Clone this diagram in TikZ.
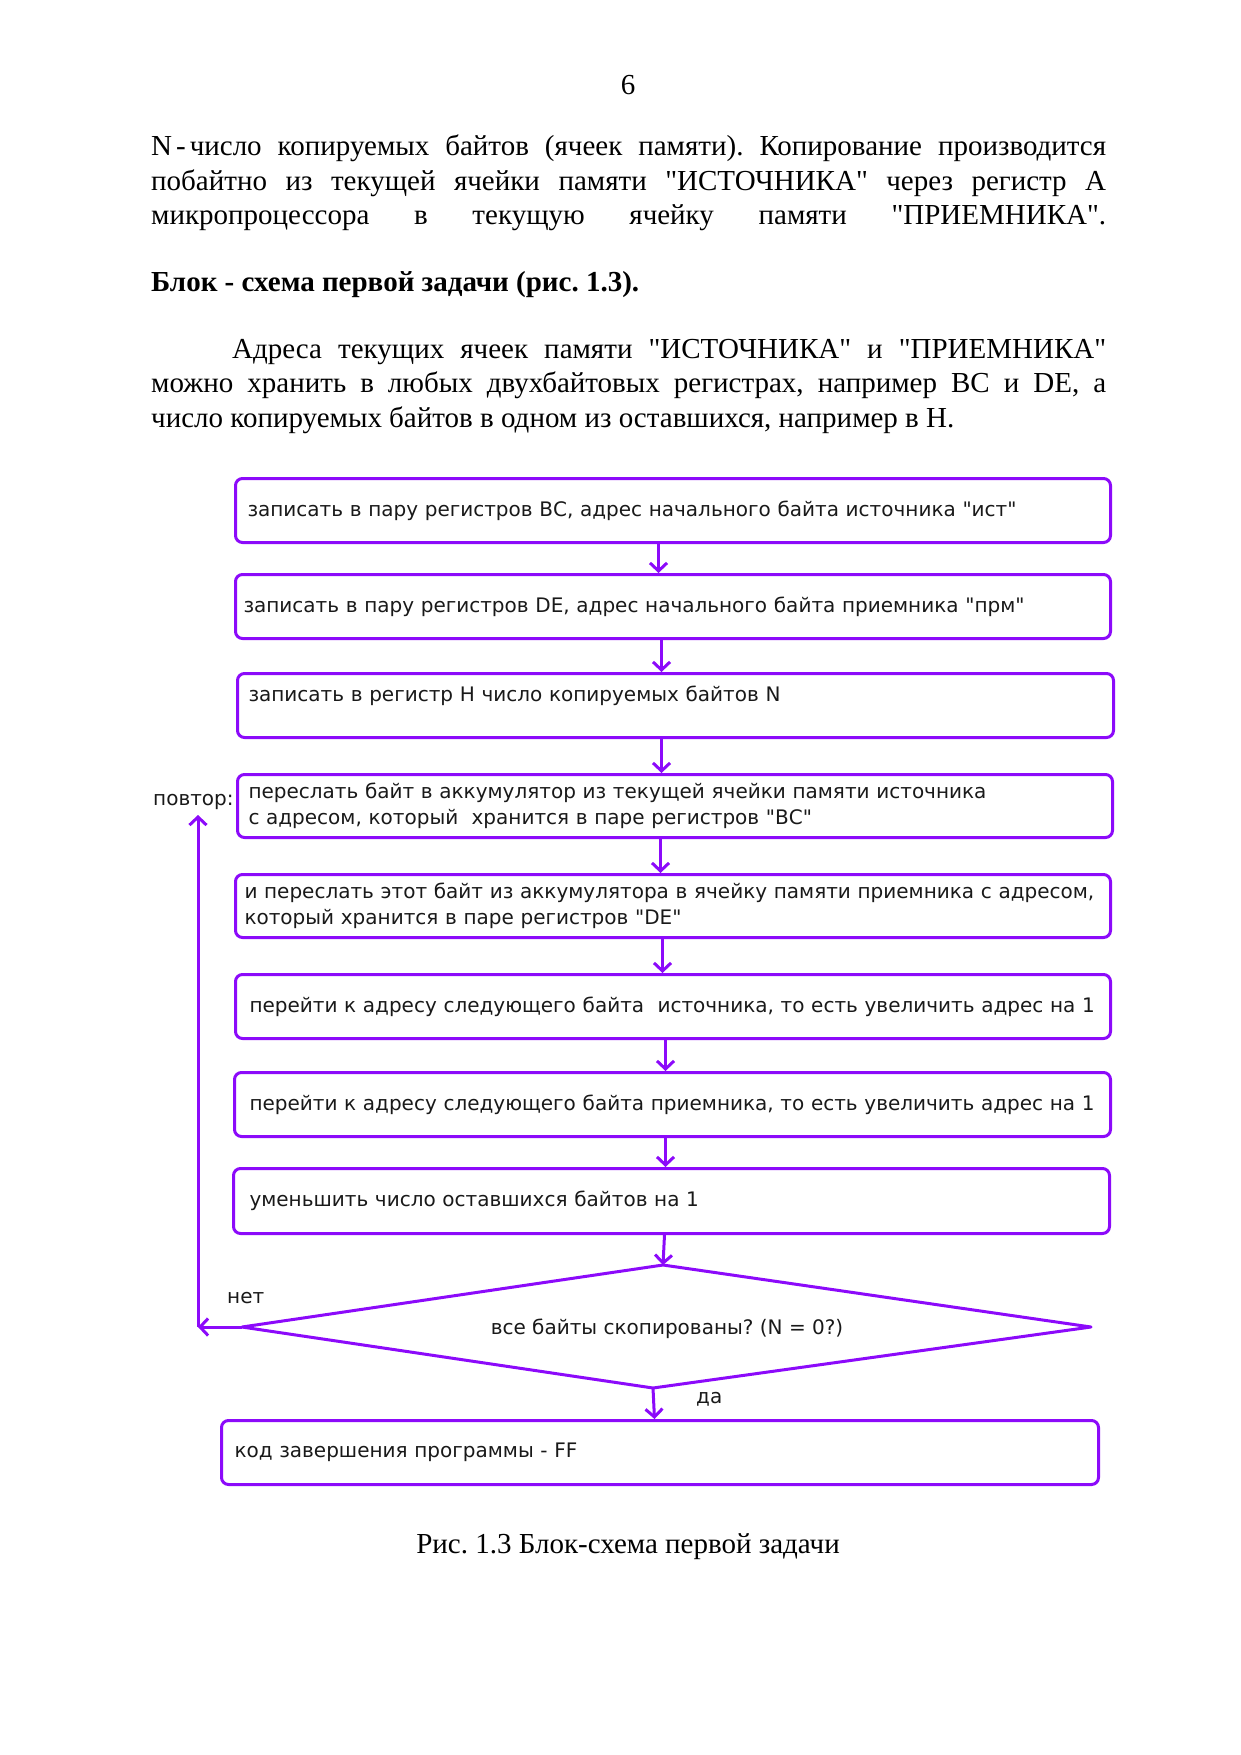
\documentclass[tikz,border=0pt]{standalone}
\usepackage{fontspec}
\setmainfont[Ligatures=TeXOff]{Liberation Serif}
\newfontfamily\boxfont{DejaVu Sans}
\usetikzlibrary{arrows.meta}
\definecolor{fc}{RGB}{140,10,250}
\begin{document}
\frenchspacing
\begin{tikzpicture}[x=1pt,y=-1pt,
  box/.style={draw=fc, line width=3pt, rounded corners=7pt, anchor=north west,
    align=left, inner ysep=0pt, font=\boxfont\fontsize{20}{26}\selectfont, text=black!90},
  lbl/.style={font=\boxfont\fontsize{20}{26}\selectfont, text=black!90, inner sep=0pt},
  conn/.style={draw=fc, line width=3pt, -{Straight Barb[length=8pt,width=17pt]}},
  para/.style={anchor=base west, inner sep=0pt, font=\fontsize{29}{34}\selectfont}]
\useasboundingbox (0,0) rectangle (1241,1755);

% page text
\node[anchor=base, inner sep=0pt, font=\fontsize{29}{34}\selectfont] (pg) at (628,95) {6};
\node[para] (l1) at (151,156) {\makebox[955pt][s]{N\kern4pt-\kern4pt число копируемых байтов (ячеек памяти). Копирование производится}};
\node[para] (l2) at (151,190) {\makebox[955pt][s]{побайтно из текущей ячейки памяти "ИСТОЧНИКА" через регистр А}};
\node[para] (l3) at (151,224) {\makebox[955pt][s]{микропроцессора в текущую ячейку памяти "ПРИЕМНИКА".}};
\node[para, font=\fontsize{29}{34}\selectfont\bfseries] (hd) at (151,291) {Блок - схема первой задачи (рис. 1.3).};
\node[para] (m1) at (232,358) {\makebox[874pt][s]{Адреса текущих ячеек памяти "ИСТОЧНИКА" и "ПРИЕМНИКА"}};
\node[para] (m2) at (151,392) {\makebox[955pt][s]{можно хранить в любых двухбайтовых регистрах, например ВС и DE, а}};
\node[para] (m3) at (151,427) {число копируемых байтов в одном из оставшихся, например в Н.};

% boxes
\node[box, inner xsep=12pt, text width=851pt, minimum height=64pt] (b1) at (234,477)
  {записать в пару регистров ВС, адрес начального байта источника "ист"};
\node[box, inner xsep=8pt, text width=859pt, minimum height=64pt] (b2) at (234,573)
  {записать в пару регистров DE, адрес начального байта приемника "прм"};
\node[box, inner xsep=11pt, text width=854pt, minimum height=64pt] (b3) at (236,672)
  {\raisebox{9pt}[0.75em][0.25em]{записать в регистр Н число копируемых байтов N}};
\node[box, inner xsep=11pt, text width=853pt, minimum height=63pt] (b4) at (236,773)
  {\mbox{переслать байт в аккумулятор из текущей ячейки памяти источника}\\\mbox{с адресом, который\ \ хранится в паре регистров "ВС"}};
\node[box, inner xsep=9pt, text width=857pt, minimum height=63pt] (b5) at (234,873)
  {\mbox{и переслать этот байт из аккумулятора в ячейку памяти приемника с адресом,}\\\mbox{который хранится в паре регистров "DE"}};
\node[box, inner xsep=14pt, text width=847pt, minimum height=64pt] (b6) at (234,973)
  {\mbox{перейти к адресу следующего байта\ \ источника, то есть увеличить адрес на 1}};
\node[box, inner xsep=15pt, text width=846pt, minimum height=64pt] (b7) at (233,1071)
  {\mbox{перейти к адресу следующего байта приемника, то есть увеличить адрес на 1}};
\node[box, inner xsep=16pt, text width=844pt, minimum height=65pt] (b8) at (232,1167)
  {уменьшить число оставшихся байтов на 1};
\node[box, inner xsep=13pt, text width=851pt, minimum height=64pt] (b9) at (220,1419)
  {код завершения программы - FF};

% decision
\coordinate (dT) at (663,1265);
\coordinate (dR) at (1091,1327);
\coordinate (dB) at (653,1388);
\coordinate (dL) at (242,1327);
\draw[fc, line width=3pt, line join=round] (dT) -- (dR) -- (dB) -- (dL) -- cycle;
\node[lbl] (dtext) at (667,1329) {все байты скопированы? (N = 0?)};

% connectors
\draw[conn] ([xshift=-14.5pt]b1.south) -- ([xshift=-14.5pt]b2.north);
\draw[conn] ([xshift=-11.5pt]b2.south) -- ([xshift=-14pt]b3.north);
\draw[conn] ([xshift=-14pt]b3.south) -- ([xshift=-13.5pt]b4.north);
\draw[conn] ([xshift=-14.5pt]b4.south) -- ([xshift=-12.5pt]b5.north);
\draw[conn] ([xshift=-10.5pt]b5.south) -- ([xshift=-10.5pt]b6.north);
\draw[conn] ([xshift=-7.5pt]b6.south) -- ([xshift=-7pt]b7.north);
\draw[conn] ([xshift=-7pt]b7.south) -- ([xshift=-6pt]b8.north);
\draw[conn] ([xshift=-7pt]b8.south) -- (dT);
\draw[conn] (dB) -- ([xshift=-5.5pt]b9.north);

% loop back
\coordinate (lc) at (198,1327);
\coordinate (lt) at (198,815);
\draw[conn] (dL) -- (lc);
\draw[conn] (lc) -- (lt);

% labels
\node[lbl, anchor=west] (povtor) at (153,802) {повтор:};
\node[lbl, anchor=west] (net) at (227,1298) {нет};
\node[lbl, anchor=west] (da) at (696,1399) {да};

% caption
\node[anchor=base, inner sep=0pt, font=\fontsize{29}{34}\selectfont] (cap) at (628,1553) {Рис. 1.3 Блок-схема первой задачи};
\end{tikzpicture}
\end{document}
